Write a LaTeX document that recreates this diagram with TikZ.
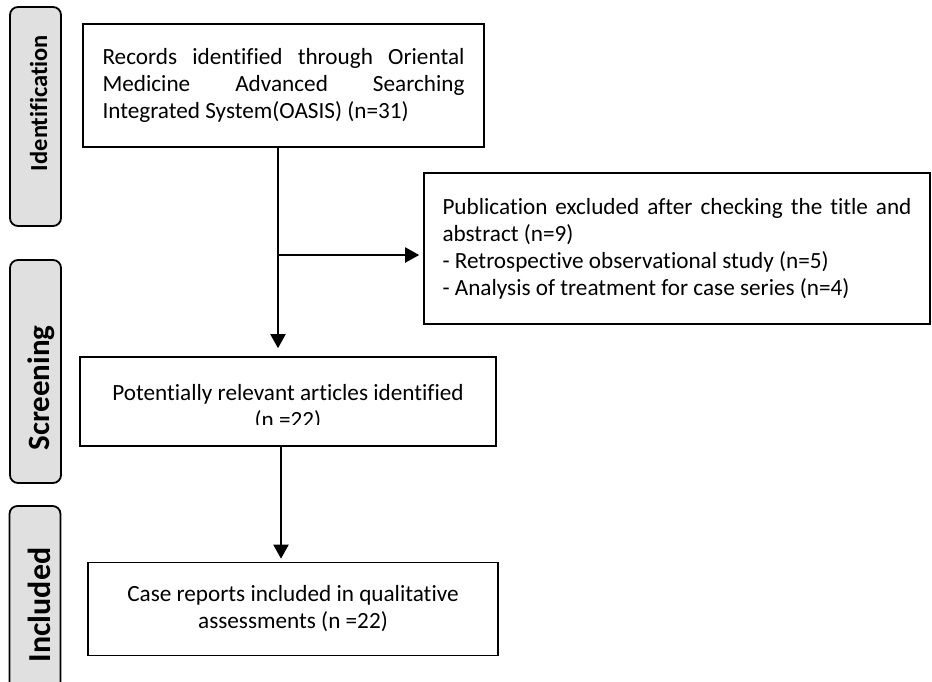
\documentclass[tikz,border=0pt]{standalone}
\usepackage{fontspec}
\setmainfont[Ligatures=NoCommon]{Carlito}
\usetikzlibrary{arrows.meta}
\definecolor{labgray}{HTML}{E0E0E0}
\begin{document}
\begin{tikzpicture}[x=1pt,y=-1pt,
  box/.style={draw=black, line width=1.6pt, inner sep=0pt, font=\fontsize{23.2}{27}\selectfont},
  lab/.style={draw=black, line width=1.8pt, fill=labgray, rounded corners=8pt, inner sep=0pt},
  labtext/.style={rotate=90, anchor=base, inner sep=0pt},
  arr/.style={line width=2pt, -{Triangle[length=14pt,width=15pt]}}]
\useasboundingbox (0,0) rectangle (932,681);
\hyphenpenalty=10000
% left labels
\node[lab, minimum width=51pt, minimum height=219pt] (idbox) at (35.5,116.5) {};
\node[labtext, font=\bfseries\fontsize{24.5}{29}\selectfont] (idtext) at (47,103) {Identification};
\node[lab, minimum width=51pt, minimum height=223pt] (scbox) at (35.5,371.5) {};
\node[labtext, font=\bfseries\fontsize{31}{36}\selectfont] (sctext) at (49,388) {Screening};
\node[lab, minimum width=51pt, minimum height=194pt] (inbox) at (35,603) {};
\node[labtext, font=\bfseries\fontsize{32}{38}\selectfont] (intext) at (50,605) {Included};
% main boxes
\node[box, minimum width=401pt, minimum height=123pt, text width=362pt, align=justify] (rec) at (283.5,85.5)
  {Records identified through Oriental\linebreak Medicine Advanced Searching\linebreak Integrated System(OASIS) (n=31)};
\node[box, minimum width=506pt, minimum height=151pt, text width=469pt, align=justify] (exc) at (677,248.5)
  {Publication excluded after checking the title and\linebreak abstract (n=9)\\
   - Retrospective observational study (n=5)\\
   - Analysis of treatment for case series (n=4)};
\node[box, minimum width=416pt, minimum height=89pt] (scr) at (288,401.5) {};
\begin{scope}
  \clip (80,357) rectangle (496,424.5);
  \node[font=\fontsize{23.2}{27}\selectfont, align=center, inner sep=0pt] (scrtext) at (288,407.5)
    {Potentially relevant articles identified\\(n =22)};
\end{scope}
\node[box, minimum width=410pt, minimum height=93pt, align=center] (inc) at (293,609)
  {Case reports included in qualitative\\assessments (n =22)};
% connectors
\coordinate (a1) at (278,0);
\coordinate (br) at (278,255);
\coordinate (a2) at (281,0);
\draw[arr, shorten >=8pt] (rec.south -| a1) -- (scr.north -| a1);
\draw[arr, shorten >=4pt] (br) -- (br -| exc.west);
\draw[arr, shorten >=3pt] (scr.south -| a2) -- (inc.north -| a2);
\end{tikzpicture}
\end{document}
